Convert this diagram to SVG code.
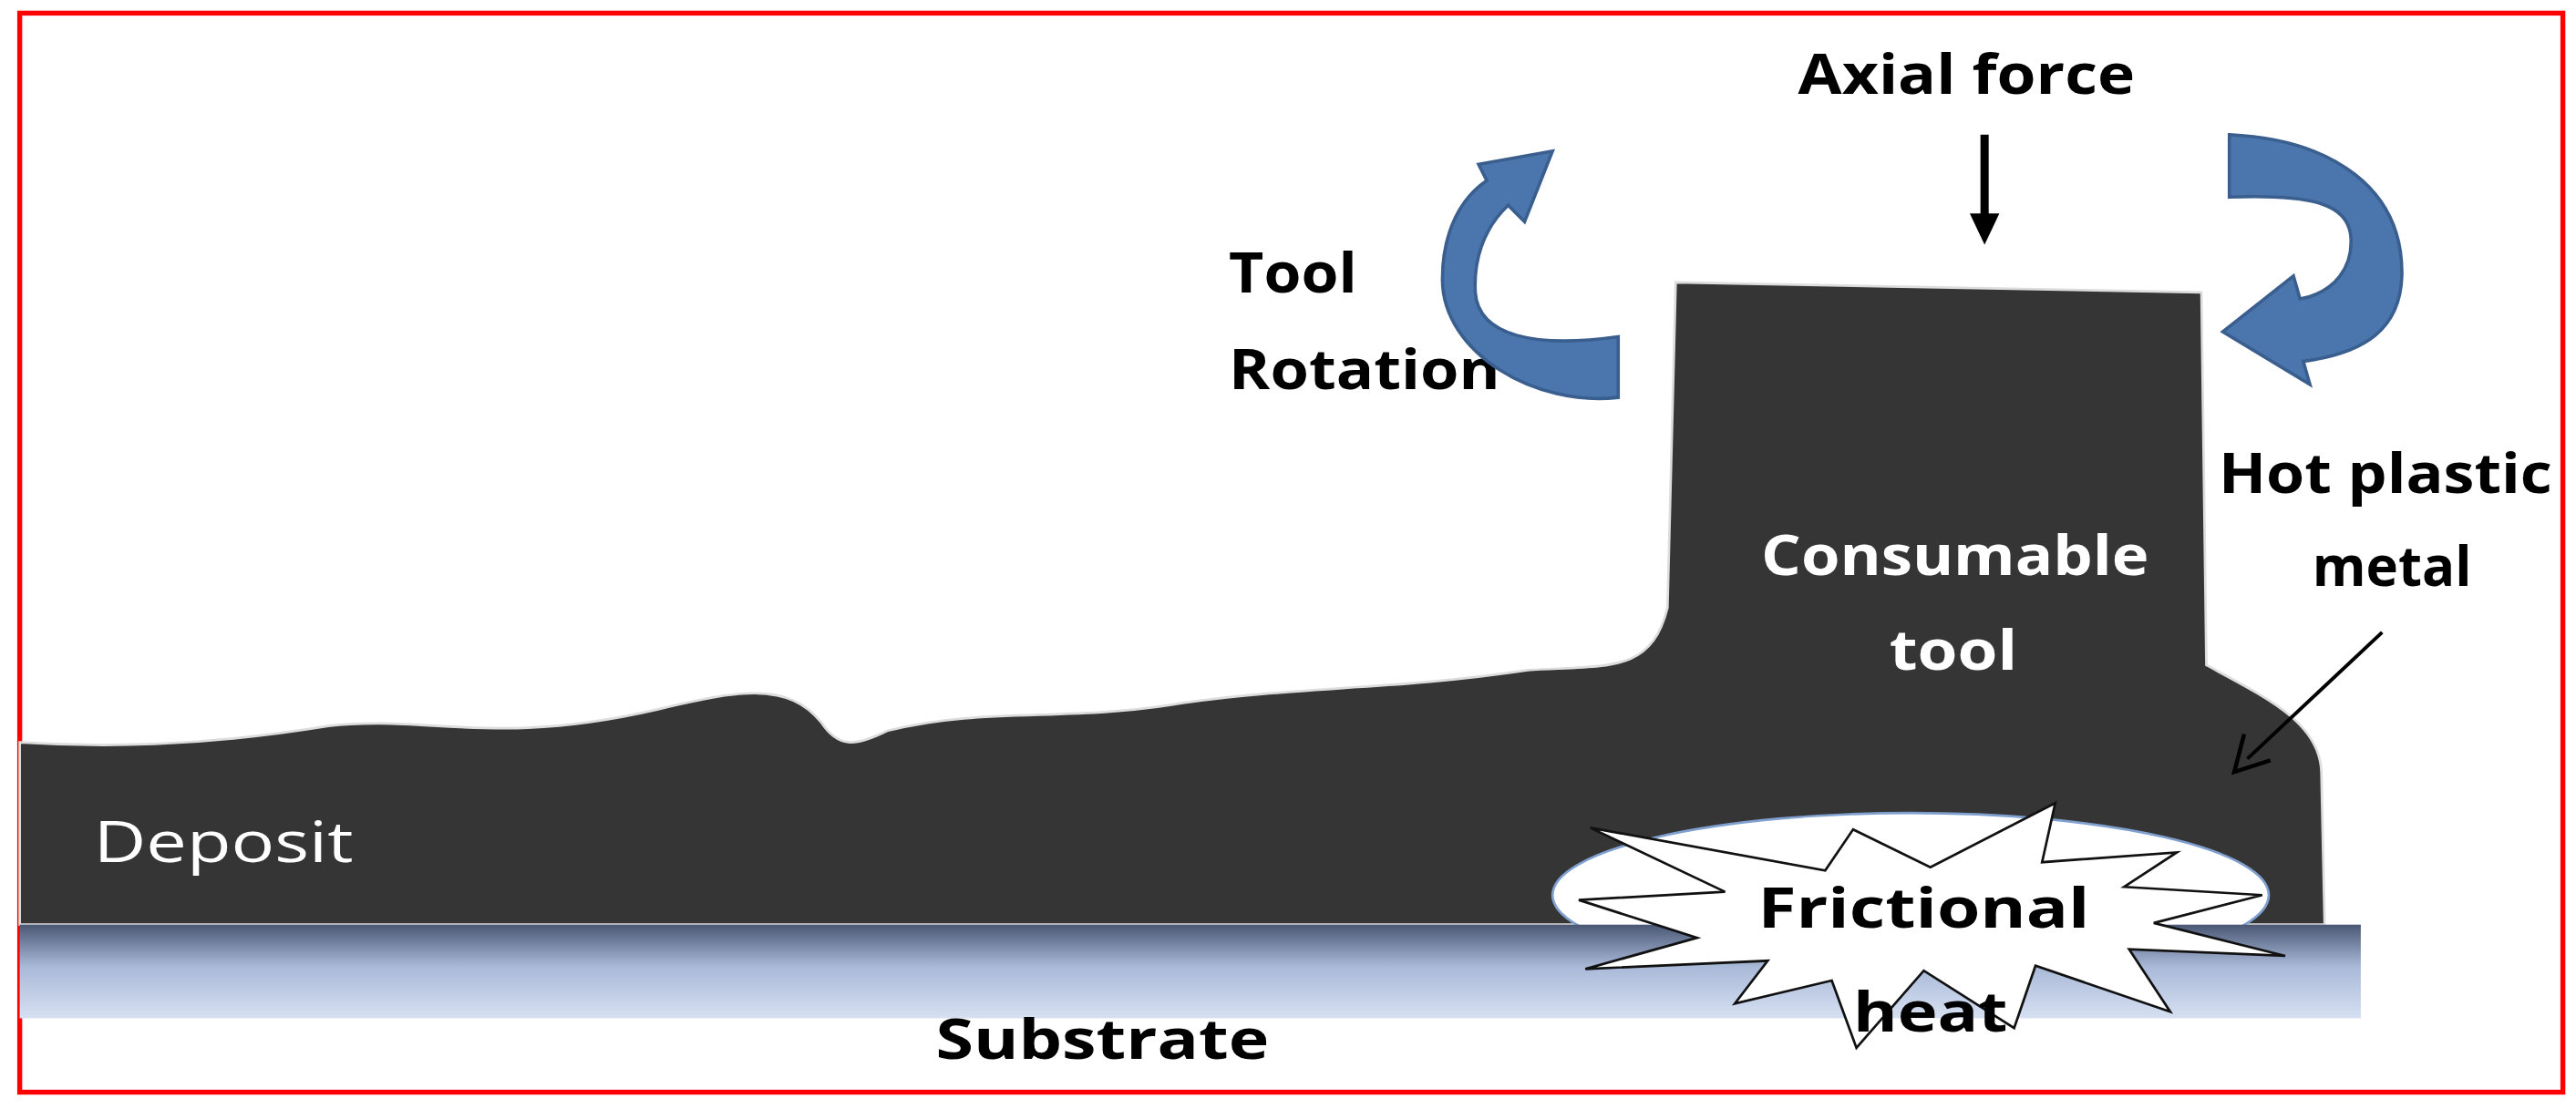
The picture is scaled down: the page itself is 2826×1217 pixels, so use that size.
<svg xmlns="http://www.w3.org/2000/svg" width="2826" height="1217" viewBox="0 0 2826 1217">
<defs>
<linearGradient id="sub" x1="0" y1="0" x2="0" y2="1">
<stop offset="0" stop-color="#4a5874"/>
<stop offset="0.45" stop-color="#a9b9d8"/>
<stop offset="1" stop-color="#d6e0f2"/>
</linearGradient>
<style>
.t{font-family:"Open Sans","Liberation Sans",sans-serif;font-weight:bold;font-size:34px;fill:#000}
.w{fill:#fff}
.blue{fill:#4a76ad;stroke:#3a5f8f;stroke-width:2}
</style>
</defs>
<rect width="2826" height="1217" fill="#fff"/>
<g transform="scale(1.8023)">
<rect x="12" y="8" width="1548" height="657" fill="none" stroke="#ff0000" stroke-width="3"/>
<g id="deposit">
<path d="M12,452 C60,455 120,455 200,442 C260,435 300,455 400,432 C450,420 480,415 500,440 C510,455 520,455 540,445 C600,430 650,440 720,428 C790,418 850,420 930,408 C980,405 1005,410 1015,370 L1020,172 L1340,178 L1343,405 C1380,425 1412,440 1413,470 L1415,563 L12,563 Z" fill="#353535" stroke="#ddd" stroke-width="1.5"/>
</g>
<g id="ellipse"><ellipse cx="1163" cy="545" rx="218" ry="50" fill="#fff" stroke="#7f9fcf" stroke-width="1.5"/></g>
<g id="substrate"><rect x="12" y="563" width="1425" height="57" fill="url(#sub)"/></g>
<g id="heat">
<polygon points="1128,505 1175,528 1251,489 1243,525 1325,519 1293,540 1377,545 1311,562 1391,582 1296,578 1321,616 1239,588 1226,626 1171,591 1130,638 1115,597 1056,611 1076,585 965,590 1033,571 961,548 1050,543 968,504 1111,530" fill="#fff" stroke="#111" stroke-width="1.5"/>
</g>
<g id="labels">
<text class="t" x="1197" y="57" text-anchor="middle" textLength="205" lengthAdjust="spacingAndGlyphs">Axial force</text>
<text class="t" x="748" y="178" textLength="78" lengthAdjust="spacingAndGlyphs">Tool</text>
<text class="t" x="748" y="237" textLength="165" lengthAdjust="spacingAndGlyphs">Rotation</text>
<text class="t" x="1452" y="300" text-anchor="middle" textLength="203" lengthAdjust="spacingAndGlyphs">Hot plastic</text>
<text class="t" x="1456" y="357" text-anchor="middle" textLength="97" lengthAdjust="spacingAndGlyphs">metal</text>
<text class="t w" x="1190" y="350" text-anchor="middle" textLength="236" lengthAdjust="spacingAndGlyphs">Consumable</text>
<text class="t w" x="1189" y="408" text-anchor="middle" textLength="78" lengthAdjust="spacingAndGlyphs">tool</text>
<text class="t w" x="57" y="525" style="font-weight:normal" textLength="158" lengthAdjust="spacingAndGlyphs">Deposit</text>
<text class="t" x="1171" y="565" text-anchor="middle" textLength="202" lengthAdjust="spacingAndGlyphs">Frictional</text>
<text class="t" x="1175" y="628" text-anchor="middle" textLength="94" lengthAdjust="spacingAndGlyphs">heat</text>
<text class="t" x="671" y="645" text-anchor="middle" textLength="203" lengthAdjust="spacingAndGlyphs">Substrate</text>
</g>
<g id="connectors">
<path class="blue" d="M985,242 C935,248 878,215 878,170 C878,140 890,120 905,110 L900,100 L945,92 L928,135 L918,125 C902,140 897,160 898,178 C900,205 935,212 985,205 Z"/>
<path class="blue" d="M1357,82 C1420,85 1463,115 1462,168 C1461,200 1440,215 1402,220 L1406,234 L1353,202 L1396,168 L1400,182 C1422,178 1432,162 1431,145 C1430,125 1410,118 1357,120 Z"/>
<line x1="1208" y1="82" x2="1208" y2="135" stroke="#000" stroke-width="5"/>
<polygon points="1199,130 1217,130 1208,149" fill="#000"/>
<line x1="1450" y1="385" x2="1368" y2="462" stroke="#000" stroke-width="2.2"/>
<polyline points="1366,447 1360,470 1382,463" fill="none" stroke="#000" stroke-width="2.5"/>
</g>
</g>
</svg>
